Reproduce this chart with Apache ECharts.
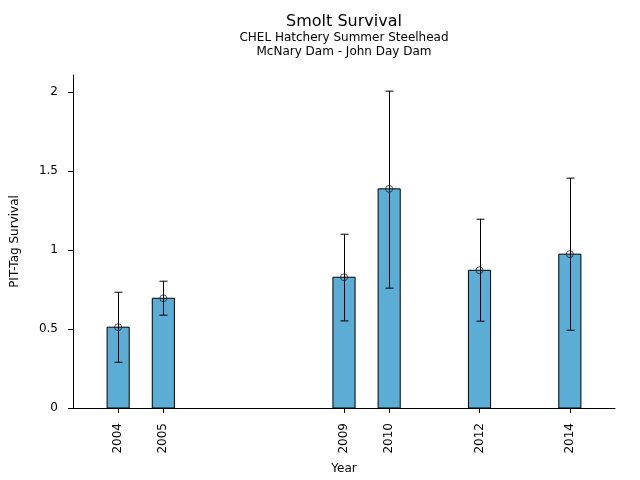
<!DOCTYPE html>
<html><head><meta charset="utf-8">
<script src="https://cdn.jsdelivr.net/npm/echarts@6/dist/echarts.min.js"></script>
<style>html,body{margin:0;padding:0;background:#fff}#c{width:640px;height:480px}</style>
</head><body><div id="c"></div>
<script>
const years = [2004, 2005, 2009, 2010, 2012, 2014];
const survival = [0.511, 0.694, 0.827, 1.386, 0.871, 0.973];
const lowerCI = [0.289, 0.587, 0.551, 0.758, 0.549, 0.492];
const upperCI = [0.732, 0.802, 1.099, 2.004, 1.194, 1.454];
const yTicks = [0, 0.5, 1, 1.5, 2];
const titleLines = ['Smolt Survival', 'CHEL Hatchery Summer Steelhead', 'McNary Dam - John Day Dam'];

const chart = echarts.init(document.getElementById('c'), null, {renderer: 'canvas'});
const font = 'DejaVu Sans';
chart.setOption({
  animation: false,
  graphic: [
    {type: 'text', x: 344, y: 22, style: {text: titleLines[0], fontFamily: font, fontSize: 16,
      fill: '#000', align: 'center', verticalAlign: 'middle'}},
    {type: 'text', x: 344, y: 38, style: {text: titleLines[1], fontFamily: font, fontSize: 12,
      fill: '#000', align: 'center', verticalAlign: 'middle'}},
    {type: 'text', x: 344, y: 52, style: {text: titleLines[2], fontFamily: font, fontSize: 12,
      fill: '#000', align: 'center', verticalAlign: 'middle'}}
  ],
  grid: {left: 73, right: 25, top: 75, bottom: 72, containLabel: false, outerBoundsMode: 'none'},
  xAxis: {
    type: 'value', min: 2003, max: 2015,
    name: 'Year', nameLocation: 'middle', nameGap: 55,
    nameTextStyle: {fontFamily: font, fontSize: 12, color: '#000'},
    axisLine: {show: true, lineStyle: {color: '#000', width: 1}},
    axisTick: {show: true, length: 5, lineStyle: {color: '#000'}, customValues: years},
    axisLabel: {rotate: 90, fontFamily: font, fontSize: 12, color: '#000', margin: 15,
      customValues: years, formatter: v => String(v)},
    splitLine: {show: false}
  },
  yAxis: {
    type: 'value', min: 0, max: 2.106, interval: 0.5,
    name: 'PIT-Tag Survival', nameLocation: 'middle', nameGap: 52, nameRotate: 90,
    nameTextStyle: {fontFamily: font, fontSize: 12, color: '#000'},
    axisLine: {show: true, lineStyle: {color: '#000', width: 1}},
    axisTick: {show: true, length: 5, lineStyle: {color: '#000'}, customValues: yTicks},
    axisLabel: {fontFamily: font, fontSize: 12, color: '#000', margin: 15,
      customValues: yTicks, formatter: v => String(v)},
    splitLine: {show: false}
  },
  series: [
    {
      type: 'custom',
      renderItem: function (params, api) {
        const x = api.value(0), y = api.value(1);
        const p0 = api.coord([x - 0.245, 0]);
        const p1 = api.coord([x + 0.245, y]);
        return {type: 'rect', shape: {x: p0[0], y: p1[1], width: p1[0] - p0[0], height: p0[1] - p1[1]},
          style: {fill: '#5badd6', stroke: '#000', lineWidth: 1}};
      },
      data: years.map((y, i) => [y, survival[i]]),
      z: 2
    },
    {
      type: 'custom',
      renderItem: function (params, api) {
        const x = api.value(0);
        const lo = api.coord([x, api.value(1)]);
        const hi = api.coord([x, api.value(2)]);
        const cx = Math.round(lo[0]) + 0.5;
        const w = 4;
        return {type: 'group', children: [
          {type: 'line', shape: {x1: cx, y1: lo[1], x2: cx, y2: hi[1]}, style: {stroke: '#000', lineWidth: 1}},
          {type: 'line', shape: {x1: cx - w, y1: lo[1], x2: cx + w, y2: lo[1]}, style: {stroke: '#000', lineWidth: 1}},
          {type: 'line', shape: {x1: cx - w, y1: hi[1], x2: cx + w, y2: hi[1]}, style: {stroke: '#000', lineWidth: 1}}
        ]};
      },
      data: years.map((y, i) => [y, lowerCI[i], upperCI[i]]),
      z: 3
    },
    {
      type: 'scatter',
      data: years.map((y, i) => [y, survival[i]]),
      symbol: 'circle', symbolSize: 7,
      itemStyle: {color: 'rgba(0,0,0,0)', borderColor: '#222', borderWidth: 1},
      z: 4
    }
  ]
});
</script></body></html>
